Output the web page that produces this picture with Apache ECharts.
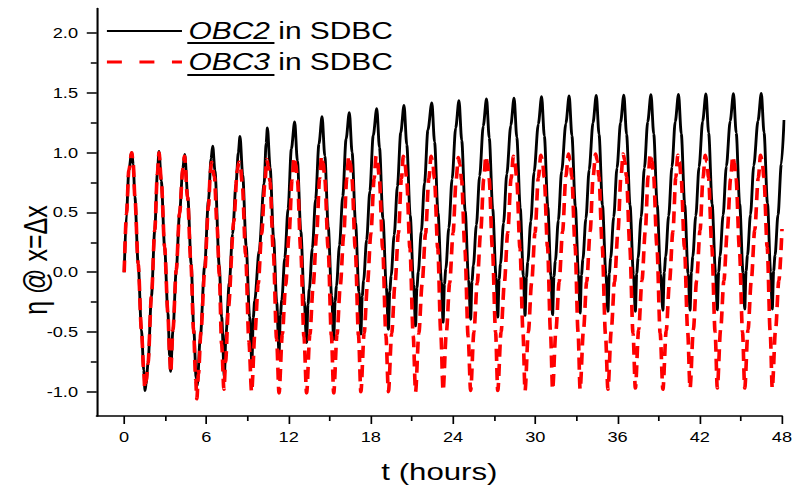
<!DOCTYPE html>
<html>
<head>
<meta charset="utf-8">
<script src="https://cdn.jsdelivr.net/npm/echarts@6.0.0/dist/echarts.min.js"></script>
<style>
html, body { margin: 0; padding: 0; background: #fff; overflow: hidden; }
/* the source figure is stretched sideways, so draw narrow and stretch the svg */
#chart-container { width: 612px; height: 489px; transform: scaleX(1.3007); transform-origin: 0 0; }
</style>
</head>
<body>
<div id="chart-container"></div>
<script>
// tick positions
const xMajor = [0, 6, 12, 18, 24, 30, 36, 42, 48];
const xMinor = [3, 9, 15, 21, 27, 33, 39, 45];
const yMajor = [-1, -0.5, 0, 0.5, 1, 1.5, 2];
const yMinor = [-0.75, -0.25, 0.25, 0.75, 1.25, 1.75];

// OBC2 in SDBC, [t (hours), eta]
const obc2 = [
  [0, 0.0], [0.17, 0.49], [0.34, 0.85], [0.55, 1.0],
  [0.66, 0.9], [0.78, 0.63], [1.02, 0.07], [1.26, -0.48], [1.43, -0.82], [1.52, -0.99],
  [1.6, -0.93], [1.74, -0.76], [1.99, -0.2], [2.23, 0.35], [2.42, 0.82], [2.54, 1.01],
  [2.71, 0.76], [2.95, 0.21], [3.19, -0.34], [3.32, -0.7], [3.39, -0.83],
  [3.56, -0.48], [3.8, 0.02], [4.04, 0.49], [4.28, 0.87], [4.42, 0.985],
  [4.64, 0.63], [4.89, 0.07], [5.08, -0.48], [5.25, -0.88], [5.33, -0.95],
  [5.55, -0.55], [5.87, 0.05], [6.15, 0.6], [6.34, 0.95], [6.46, 1.055],
  [6.62, 0.85], [6.94, 0.05], [7.11, -0.37], [7.31, -0.87],
  [7.43, -0.51], [7.67, -0.09], [7.91, 0.32], [8.16, 0.74], [8.33, 1.0], [8.45, 1.135],
  [8.65, 0.81], [8.9, 0.22], [9.15, -0.37], [9.32, -0.76],
  [9.42, -0.38], [9.52, -0.24], [9.85, 0.18], [10.21, 0.74], [10.36, 1.08], [10.45, 1.207],
  [10.65, 0.87], [10.9, 0.29], [11.13, -0.25], [11.3, -0.675],
  [11.4, -0.36], [11.5, -0.23], [11.72, 0.12], [11.96, 0.53], [12.2, 1.03], [12.44, 1.257],
  [12.64, 0.93], [12.89, 0.34], [13.14, -0.24], [13.31, -0.59],
  [13.41, -0.27], [13.51, -0.14], [13.73, 0.2], [13.97, 0.61], [14.21, 1.07], [14.44, 1.3],
  [14.64, 0.97], [14.89, 0.38], [15.14, -0.2], [15.29, -0.565],
  [15.39, -0.245], [15.49, -0.115], [15.71, 0.225], [15.95, 0.635], [16.19, 1.11], [16.43, 1.335],
  [16.63, 1.0], [16.88, 0.415], [17.13, -0.165], [17.27, -0.52],
  [17.37, -0.2], [17.47, -0.07], [17.69, 0.27], [17.93, 0.68], [18.17, 1.14], [18.43, 1.368],
  [18.63, 1.04], [18.88, 0.45], [19.13, -0.13], [19.28, -0.48],
  [19.38, -0.16], [19.48, -0.03], [19.7, 0.31], [19.94, 0.72], [20.18, 1.165], [20.42, 1.395],
  [20.62, 1.065], [20.87, 0.475], [21.12, -0.105], [21.26, -0.45],
  [21.36, -0.13], [21.46, 0.0], [21.68, 0.34], [21.92, 0.75], [22.16, 1.185], [22.45, 1.415],
  [22.65, 1.085], [22.9, 0.495], [23.15, -0.085], [23.27, -0.42],
  [23.37, -0.1], [23.47, 0.03], [23.69, 0.37], [23.93, 0.78], [24.19, 1.205], [24.43, 1.434],
  [24.63, 1.1], [24.88, 0.515], [25.13, -0.065], [25.28, -0.395],
  [25.38, -0.075], [25.48, 0.055], [25.7, 0.395], [25.94, 0.805], [26.2, 1.22], [26.44, 1.448],
  [26.64, 1.12], [26.89, 0.53], [27.14, -0.05], [27.26, -0.378],
  [27.36, -0.06], [27.46, 0.07], [27.68, 0.41], [27.92, 0.82], [28.21, 1.226], [28.45, 1.456],
  [28.65, 1.125], [28.9, 0.535], [29.13, -0.03], [29.25, -0.365],
  [29.35, -0.045], [29.45, 0.085], [29.67, 0.425], [29.91, 0.835], [30.22, 1.237], [30.46, 1.467],
  [30.66, 1.135], [30.91, 0.545], [31.14, -0.03], [31.26, -0.357],
  [31.36, -0.037], [31.46, 0.093], [31.68, 0.433], [31.92, 0.843], [32.23, 1.243], [32.47, 1.473],
  [32.67, 1.14], [32.92, 0.55], [33.15, -0.02], [33.27, -0.343],
  [33.37, -0.023], [33.47, 0.107], [33.69, 0.447], [33.93, 0.857], [34.21, 1.248], [34.45, 1.478],
  [34.65, 1.15], [34.9, 0.56], [35.15, -0.02], [35.3, -0.33],
  [35.4, -0.01], [35.5, 0.12], [35.72, 0.46], [35.96, 0.87], [36.22, 1.25], [36.46, 1.48],
  [36.66, 1.15], [36.91, 0.56], [37.16, -0.02], [37.3, -0.33],
  [37.4, -0.01], [37.5, 0.12], [37.72, 0.46], [37.96, 0.87], [38.2, 1.254], [38.44, 1.484],
  [38.64, 1.155], [38.89, 0.565], [39.14, -0.015], [39.31, -0.32],
  [39.41, 0.0], [39.51, 0.13], [39.73, 0.47], [39.97, 0.88], [40.21, 1.257], [40.45, 1.487],
  [40.65, 1.157], [40.9, 0.567], [41.15, -0.013], [41.29, -0.32],
  [41.39, 0.0], [41.49, 0.13], [41.71, 0.47], [41.95, 0.88], [42.21, 1.26], [42.45, 1.49],
  [42.65, 1.16], [42.9, 0.57], [43.15, -0.01], [43.28, -0.316],
  [43.38, 0.004], [43.48, 0.134], [43.7, 0.474], [43.94, 0.884], [44.22, 1.262], [44.46, 1.492],
  [44.66, 1.162], [44.91, 0.572], [45.16, -0.008], [45.28, -0.31],
  [45.38, 0.01], [45.48, 0.14], [45.7, 0.48], [45.94, 0.89], [46.25, 1.265], [46.49, 1.495],
  [46.69, 1.165], [46.94, 0.575], [47.17, 0.0], [47.29, -0.31],
  [47.39, 0.01], [47.49, 0.14], [47.71, 0.48], [47.95, 0.9], [48.15, 1.27]
];

// OBC3 in SDBC, [t (hours), eta]
const obc3 = [
  [0, 0.0], [0.17, 0.49], [0.34, 0.85], [0.55, 1.0],
  [0.66, 0.9], [0.78, 0.63], [1.02, 0.07], [1.26, -0.48], [1.43, -0.83], [1.5, -0.97],
  [1.6, -0.91], [1.74, -0.76], [1.99, -0.2], [2.23, 0.35], [2.42, 0.82], [2.54, 1.0],
  [2.71, 0.76], [2.95, 0.21], [3.19, -0.34], [3.32, -0.7], [3.39, -0.84],
  [3.56, -0.48], [3.8, 0.02], [4.04, 0.49], [4.28, 0.86], [4.4, 0.97],
  [4.62, 0.63], [4.87, 0.07], [5.06, -0.48], [5.22, -0.9], [5.3, -1.06],
  [5.42, -0.85], [5.6, -0.5], [5.87, 0.0], [6.15, 0.55], [6.3, 0.85], [6.38, 0.92],
  [6.58, 0.8], [6.78, 0.38], [6.94, -0.02], [7.11, -0.6], [7.28, -0.98],
  [7.4, -0.75], [7.6, -0.3], [8.0, 0.42], [8.25, 0.85], [8.38, 0.92],
  [8.5, 0.86], [8.62, 0.73], [8.86, 0.15], [9.1, -0.58], [9.3, -1.0],
  [9.54, -0.51], [9.78, -0.1], [10.03, 0.32], [10.27, 0.75], [10.4, 0.944],
  [10.52, 0.884], [10.64, 0.754], [10.88, 0.174], [11.12, -0.556], [11.3, -1.01],
  [11.54, -0.52], [11.78, -0.11], [12.03, 0.31], [12.25, 0.77], [12.4, 0.96],
  [12.52, 0.9], [12.64, 0.77], [12.88, 0.19], [13.12, -0.54], [13.31, -1.01],
  [13.55, -0.52], [13.79, -0.11], [14.04, 0.31], [14.26, 0.78], [14.4, 0.97],
  [14.52, 0.91], [14.64, 0.78], [14.88, 0.2], [15.12, -0.53], [15.29, -1.01],
  [15.53, -0.52], [15.77, -0.11], [16.02, 0.31], [16.24, 0.78], [16.38, 0.97],
  [16.5, 0.91], [16.62, 0.78], [16.86, 0.2], [17.1, -0.53], [17.27, -1.0],
  [17.51, -0.51], [17.75, -0.1], [18.0, 0.32], [18.24, 0.78], [18.38, 0.97],
  [18.5, 0.91], [18.62, 0.78], [18.86, 0.2], [19.1, -0.53], [19.28, -1.0],
  [19.52, -0.51], [19.76, -0.1], [20.01, 0.32], [20.23, 0.78], [20.37, 0.97],
  [20.49, 0.91], [20.61, 0.78], [20.85, 0.2], [21.09, -0.53], [21.26, -1.0],
  [21.5, -0.51], [21.74, -0.1], [21.99, 0.32], [22.23, 0.78], [22.4, 0.97],
  [22.52, 0.91], [22.64, 0.78], [22.88, 0.2], [23.1, -0.5], [23.27, -0.99],
  [23.51, -0.5], [23.75, -0.09], [24.0, 0.33], [24.22, 0.77], [24.38, 0.96],
  [24.5, 0.9], [24.62, 0.77], [24.86, 0.19], [25.1, -0.54], [25.28, -0.99],
  [25.52, -0.5], [25.76, -0.09], [26.01, 0.33], [26.24, 0.78], [26.39, 0.97],
  [26.51, 0.91], [26.63, 0.78], [26.87, 0.2], [27.1, -0.5], [27.26, -0.99],
  [27.5, -0.5], [27.74, -0.09], [27.99, 0.33], [28.23, 0.78], [28.4, 0.97],
  [28.52, 0.91], [28.64, 0.78], [28.88, 0.2], [29.1, -0.5], [29.25, -0.99],
  [29.49, -0.5], [29.73, -0.09], [29.98, 0.33], [30.22, 0.79], [30.41, 0.98],
  [30.53, 0.92], [30.65, 0.79], [30.89, 0.21], [31.11, -0.5], [31.26, -0.98],
  [31.5, -0.49], [31.74, -0.08], [31.99, 0.34], [32.23, 0.8], [32.42, 0.99],
  [32.54, 0.93], [32.66, 0.8], [32.9, 0.22], [33.12, -0.5], [33.27, -0.98],
  [33.51, -0.49], [33.75, -0.08], [34.0, 0.34], [34.22, 0.8], [34.4, 0.99],
  [34.52, 0.93], [34.64, 0.8], [34.88, 0.22], [35.12, -0.52], [35.3, -0.98],
  [35.54, -0.49], [35.78, -0.08], [36.03, 0.34], [36.25, 0.8], [36.41, 0.99],
  [36.53, 0.93], [36.65, 0.8], [36.89, 0.22], [37.13, -0.51], [37.3, -0.97],
  [37.54, -0.48], [37.78, -0.07], [38.03, 0.35], [38.23, 0.8], [38.39, 0.99],
  [38.51, 0.93], [38.63, 0.8], [38.87, 0.22], [39.11, -0.51], [39.31, -0.98],
  [39.55, -0.49], [39.79, -0.08], [40.04, 0.34], [40.25, 0.79], [40.4, 0.98],
  [40.52, 0.92], [40.64, 0.79], [40.88, 0.21], [41.12, -0.5], [41.29, -0.97],
  [41.53, -0.48], [41.77, -0.07], [42.02, 0.35], [42.24, 0.79], [42.4, 0.98],
  [42.52, 0.92], [42.64, 0.79], [42.88, 0.21], [43.12, -0.5], [43.28, -0.97],
  [43.52, -0.48], [43.76, -0.07], [44.01, 0.35], [44.25, 0.78], [44.41, 0.97],
  [44.53, 0.91], [44.65, 0.78], [44.89, 0.2], [45.12, -0.5], [45.28, -0.97],
  [45.52, -0.48], [45.76, -0.07], [46.01, 0.35], [46.27, 0.79], [46.44, 0.98],
  [46.56, 0.92], [46.68, 0.79], [46.92, 0.21], [47.14, -0.5], [47.29, -0.97],
  [47.53, -0.48], [47.77, -0.07], [48, 0.36]
];

var dom = document.getElementById('chart-container');
var myChart = echarts.init(dom, null, { renderer: 'svg' });

const FONT = '"Liberation Sans", Arial, sans-serif';

var option = {
  animation: false,
  grid: { left: 74.4, right: 7.7, top: 8.6, bottom: 71 },
  legend: {
    orient: 'vertical',
    left: 80.7,
    top: 18,
    padding: 0,
    itemWidth: 57.7,
    itemHeight: 26,
    itemGap: 5,
    data: [
      { name: 'OBC2', itemStyle: { opacity: 0 }, lineStyle: { color: '#000', width: 2.2, type: 'solid' } },
      { name: 'OBC3', itemStyle: { opacity: 0 }, lineStyle: { color: '#ff0000', width: 3, type: [11.5, 13.5] } }
    ],
    formatter: function (name) {
      return '{it|' + name + '} in SDBC';
    },
    textStyle: {
      fontFamily: FONT, fontSize: 23, color: '#000', lineHeight: 26,
      rich: {
        it: { fontFamily: FONT, fontSize: 23, fontStyle: 'italic', color: '#000', lineHeight: 26 }
      }
    }
  },
  xAxis: [
    {
      type: 'value', position: 'bottom', min: -2, max: 48,
      axisLine: { onZero: false, lineStyle: { color: '#000', width: 1.7 } },
      axisTick: { customValues: xMajor, length: 8, lineStyle: { color: '#000', width: 1.3 } },
      axisLabel: { customValues: xMajor, margin: 14, color: '#000', fontFamily: FONT, fontSize: 14 },
      splitLine: { show: false },
      name: 't (hours)', nameLocation: 'middle', nameGap: 44,
      nameTextStyle: { color: '#000', fontFamily: FONT, fontSize: 24 }
    },
    {
      type: 'value', position: 'bottom', min: -2, max: 48,
      axisLine: { show: false, onZero: false },
      axisTick: { customValues: xMinor, length: 5, lineStyle: { color: '#000', width: 1.3 } },
      axisLabel: { show: false },
      splitLine: { show: false }
    }
  ],
  yAxis: [
    {
      type: 'value', position: 'left', min: -1.2, max: 2.2,
      axisLine: { show: true, onZero: false, lineStyle: { color: '#000', width: 1.6 } },
      axisTick: { show: true, customValues: yMajor, length: 7.7, lineStyle: { color: '#000', width: 1.5 } },
      axisLabel: {
        customValues: yMajor, margin: 14.4, color: '#000', fontFamily: FONT, fontSize: 14,
        formatter: function (v) { return v.toFixed(1); }
      },
      splitLine: { show: false }
    },
    {
      type: 'value', position: 'left', min: -1.2, max: 2.2,
      axisLine: { show: false, onZero: false },
      axisTick: { show: true, customValues: yMinor, length: 4.6, lineStyle: { color: '#000', width: 1.5 } },
      axisLabel: { show: false },
      splitLine: { show: false }
    }
  ],
  graphic: [
    {
      type: 'text', x: 27.7, y: 260, rotation: Math.PI / 2,
      style: {
        text: 'η @ x=Δx', font: '25px "Liberation Sans", Arial, sans-serif', fill: '#000',
        align: 'center', verticalAlign: 'middle', textAlign: 'center', textVerticalAlign: 'middle'
      }
    },
    { type: 'line', shape: { x1: 144, y1: 43, x2: 211, y2: 43 }, style: { stroke: '#000', lineWidth: 1.8 } },
    { type: 'line', shape: { x1: 144, y1: 75, x2: 211, y2: 75 }, style: { stroke: '#000', lineWidth: 1.8 } }
  ],
  series: [
    {
      name: 'OBC2', type: 'line', data: obc2, xAxisIndex: 0, yAxisIndex: 0,
      symbol: 'none', showSymbol: false, smooth: 0.3, smoothMonotone: 'x', clip: false,
      lineStyle: { color: '#000', width: 2.2 }, itemStyle: { color: '#000' }, z: 2
    },
    {
      name: 'OBC3', type: 'line', data: obc3, xAxisIndex: 0, yAxisIndex: 0,
      symbol: 'none', showSymbol: false, smooth: 0.3, smoothMonotone: 'x',
      lineStyle: { color: '#ff0000', width: 2.8, type: [12, 7] }, itemStyle: { color: '#ff0000' }, z: 3
    }
  ]
};

myChart.setOption(option);
window.addEventListener('resize', myChart.resize);
</script>
</body>
</html>
